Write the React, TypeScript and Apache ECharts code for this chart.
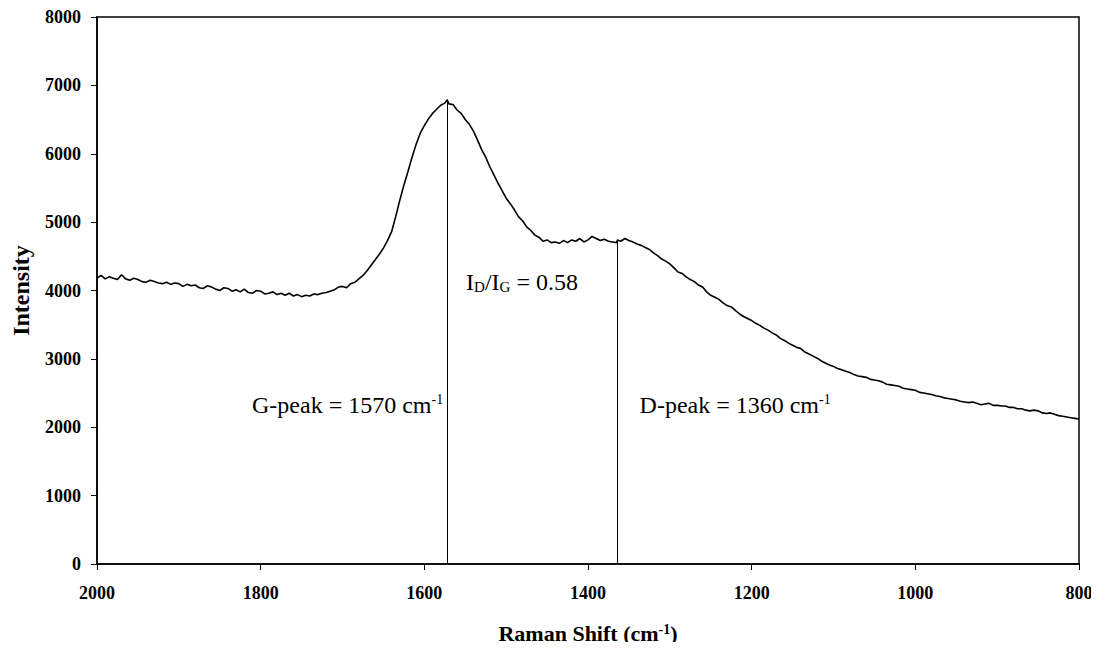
import React, { useEffect, useRef } from "react";
import * as echarts from "echarts";

const ramanShift: number[] = [
  2000, 1995, 1990, 1985, 1980, 1975, 1970, 1965, 1960, 1955, 1950, 1945, 1940, 1935, 1930, 1925, 1920, 1915, 1910, 1905,
  1900, 1895, 1890, 1885, 1880, 1875, 1870, 1865, 1860, 1855, 1850, 1845, 1840, 1835, 1830, 1825, 1820, 1815, 1810, 1805,
  1800, 1795, 1790, 1785, 1780, 1775, 1770, 1765, 1760, 1755, 1750, 1745, 1740, 1735, 1730, 1725, 1720, 1715, 1710, 1705,
  1700, 1695, 1690, 1685, 1680, 1675, 1670, 1665, 1660, 1655, 1650, 1645, 1640, 1635, 1630, 1625, 1620, 1615, 1610, 1605,
  1600, 1595, 1590, 1585, 1580, 1575, 1572, 1570, 1565, 1560, 1555, 1550, 1545, 1540, 1535, 1530, 1525, 1520, 1515, 1510,
  1505, 1500, 1495, 1490, 1485, 1480, 1475, 1470, 1465, 1460, 1455, 1450, 1445, 1440, 1435, 1430, 1425, 1420, 1415, 1410,
  1405, 1400, 1395, 1390, 1385, 1380, 1375, 1370, 1365, 1364, 1360, 1355, 1350, 1345, 1340, 1335, 1330, 1325, 1320, 1315,
  1310, 1305, 1300, 1295, 1290, 1285, 1280, 1275, 1270, 1265, 1260, 1255, 1250, 1245, 1240, 1235, 1230, 1225, 1220, 1215,
  1210, 1205, 1200, 1195, 1190, 1185, 1180, 1175, 1170, 1165, 1160, 1155, 1150, 1145, 1140, 1135, 1130, 1125, 1120, 1115,
  1110, 1105, 1100, 1095, 1090, 1085, 1080, 1075, 1070, 1065, 1060, 1055, 1050, 1045, 1040, 1035, 1030, 1025, 1020, 1015,
  1010, 1005, 1000, 995, 990, 985, 980, 975, 970, 965, 960, 955, 950, 945, 940, 935, 930, 925, 920, 915,
  910, 905, 900, 895, 890, 885, 880, 875, 870, 865, 860, 855, 850, 845, 840, 835, 830, 825, 820, 815,
  810, 805, 800,
];

const intensity: number[] = [
  4180, 4220, 4170, 4200, 4180, 4160, 4230, 4170, 4150, 4180, 4160, 4130, 4120, 4150, 4130, 4110, 4100, 4120, 4090, 4110,
  4100, 4060, 4090, 4070, 4080, 4040, 4030, 4070, 4050, 4020, 4000, 4040, 4030, 3990, 4010, 3980, 4020, 3970, 3960, 4000,
  3990, 3950, 3960, 3980, 3940, 3960, 3930, 3960, 3920, 3940, 3910, 3930, 3920, 3950, 3940, 3960, 3970, 3990, 4010, 4050,
  4060, 4040, 4100, 4120, 4170, 4220, 4290, 4370, 4450, 4530, 4620, 4730, 4860, 5080, 5320, 5540, 5740, 5950, 6140, 6300,
  6410, 6510, 6590, 6650, 6710, 6740, 6790, 6730, 6720, 6640, 6590, 6500, 6430, 6330, 6200, 6060, 5950, 5810, 5690, 5570,
  5460, 5350, 5270, 5180, 5080, 5020, 4930, 4880, 4810, 4780, 4720, 4740, 4700, 4710, 4690, 4730, 4700, 4740, 4720, 4760,
  4710, 4740, 4790, 4760, 4730, 4750, 4720, 4710, 4700, 4740, 4720, 4760, 4730, 4710, 4680, 4660, 4630, 4600, 4550, 4510,
  4460, 4430, 4390, 4330, 4270, 4250, 4200, 4160, 4130, 4080, 4050, 3980, 3930, 3900, 3870, 3820, 3780, 3760, 3710, 3660,
  3620, 3590, 3560, 3520, 3490, 3450, 3420, 3380, 3350, 3300, 3270, 3230, 3200, 3170, 3150, 3100, 3070, 3040, 3010, 2970,
  2940, 2910, 2890, 2860, 2840, 2820, 2800, 2770, 2750, 2740, 2730, 2700, 2690, 2680, 2660, 2630, 2620, 2610, 2600, 2570,
  2560, 2550, 2540, 2510, 2500, 2490, 2480, 2460, 2450, 2430, 2420, 2410, 2400, 2380, 2370, 2360, 2370, 2350, 2330, 2340,
  2350, 2320, 2320, 2310, 2310, 2290, 2290, 2270, 2270, 2250, 2240, 2250, 2240, 2210, 2200, 2210, 2190, 2170, 2160, 2150,
  2140, 2130, 2120,
];

const gPeakPos = 1572;
const gPeakTop = 6790;
const dPeakPos = 1364;
const dPeakTop = 4740;

const xTicks = { min: 800, max: 2000, interval: 200 };
const yTicks = { min: 0, max: 8000, interval: 1000 };

const serif = "Liberation Serif";

export default function App() {
  const ref = useRef<HTMLDivElement>(null);
  useEffect(() => {
    if (!ref.current) return;
    const chart = echarts.init(ref.current, undefined, { renderer: "svg" });
    const lineData = ramanShift.map((x, i) => [x, intensity[i]]);
    const annoRich = {
      n: { fontFamily: serif, fontSize: 24, color: "#000" },
      sup: { fontFamily: serif, fontSize: 14, color: "#000", verticalAlign: "top", padding: [0, 0, 10, 0] },
      sub: { fontFamily: serif, fontSize: 15, color: "#000", verticalAlign: "bottom", padding: [9, 0, 0, 0] },
    };
    const annoLabel = (pos: string, text: string) => ({
      show: true,
      position: pos,
      distance: 0,
      fontFamily: serif,
      fontSize: 24,
      color: "#000",
      formatter: text,
      rich: annoRich,
    });
    chart.setOption({
      animation: false,
      backgroundColor: "#fff",
      grid: {
        left: 97,
        right: 20,
        top: 17,
        bottom: 86,
        show: true,
        borderColor: "#000",
        borderWidth: 1.5,
        outerBoundsMode: "none",
        containLabel: false,
      },
      xAxis: {
        type: "value",
        inverse: true,
        min: xTicks.min,
        max: xTicks.max,
        interval: xTicks.interval,
        splitLine: { show: false },
        axisLine: { lineStyle: { color: "#000", width: 1.5 } },
        axisTick: { inside: false, length: 6, lineStyle: { color: "#000", width: 1 } },
        axisLabel: {
          fontFamily: serif,
          fontWeight: "bold",
          fontSize: 18,
          color: "#000",
          margin: 20,
          formatter: (v: number) => String(v),
        },
        name: "{b|Raman Shift (cm}{s|-1}{b|)}",
        nameLocation: "middle",
        nameGap: 58,
        nameTextStyle: {
          fontFamily: serif,
          fontWeight: "bold",
          fontSize: 22,
          color: "#000",
          rich: {
            b: { fontFamily: serif, fontWeight: "bold", fontSize: 22, color: "#000" },
            s: { fontFamily: serif, fontWeight: "bold", fontSize: 14, color: "#000", verticalAlign: "top", padding: [0, 0, 8, 0] },
          },
        },
      },
      yAxis: {
        type: "value",
        min: yTicks.min,
        max: yTicks.max,
        interval: yTicks.interval,
        splitLine: { show: false },
        axisLine: { show: true, lineStyle: { color: "#000", width: 1.5 } },
        axisTick: { show: true, inside: false, length: 6, lineStyle: { color: "#000", width: 1 } },
        axisLabel: {
          fontFamily: serif,
          fontWeight: "bold",
          fontSize: 18,
          color: "#000",
          margin: 16,
          formatter: (v: number) => String(v),
        },
        name: "Intensity",
        nameLocation: "middle",
        nameGap: 64,
        nameRotate: 90,
        nameTextStyle: { fontFamily: serif, fontWeight: "bold", fontSize: 24, color: "#000" },
      },
      series: [
        {
          type: "line",
          data: lineData,
          showSymbol: false,
          symbol: "none",
          lineStyle: { color: "#000", width: 1.6 },
          markLine: {
            silent: true,
            symbol: "none",
            lineStyle: { color: "#000", width: 1, type: "solid" },
            label: { show: false },
            data: [
              [{ coord: [gPeakPos, 0] }, { coord: [gPeakPos, gPeakTop] }],
              [{ coord: [dPeakPos, 0] }, { coord: [dPeakPos, dPeakTop] }],
            ],
          },
          markPoint: {
            silent: true,
            symbol: "circle",
            symbolSize: 0,
            data: [
              { coord: [1577, 2330], label: annoLabel("left", "{n|G-peak = 1570 cm}{sup|-1}") },
              { coord: [1337, 2330], label: annoLabel("right", "{n|D-peak = 1360 cm}{sup|-1}") },
              { coord: [1549, 4124], label: annoLabel("right", "{n|I}{sub|D}{n|/I}{sub|G}{n| = 0.58}") },
            ],
          },
        },
      ],
    });
    return () => chart.dispose();
  }, []);
  return <div ref={ref} style={{ width: 1099, height: 650, margin: -8 }} />;
}
